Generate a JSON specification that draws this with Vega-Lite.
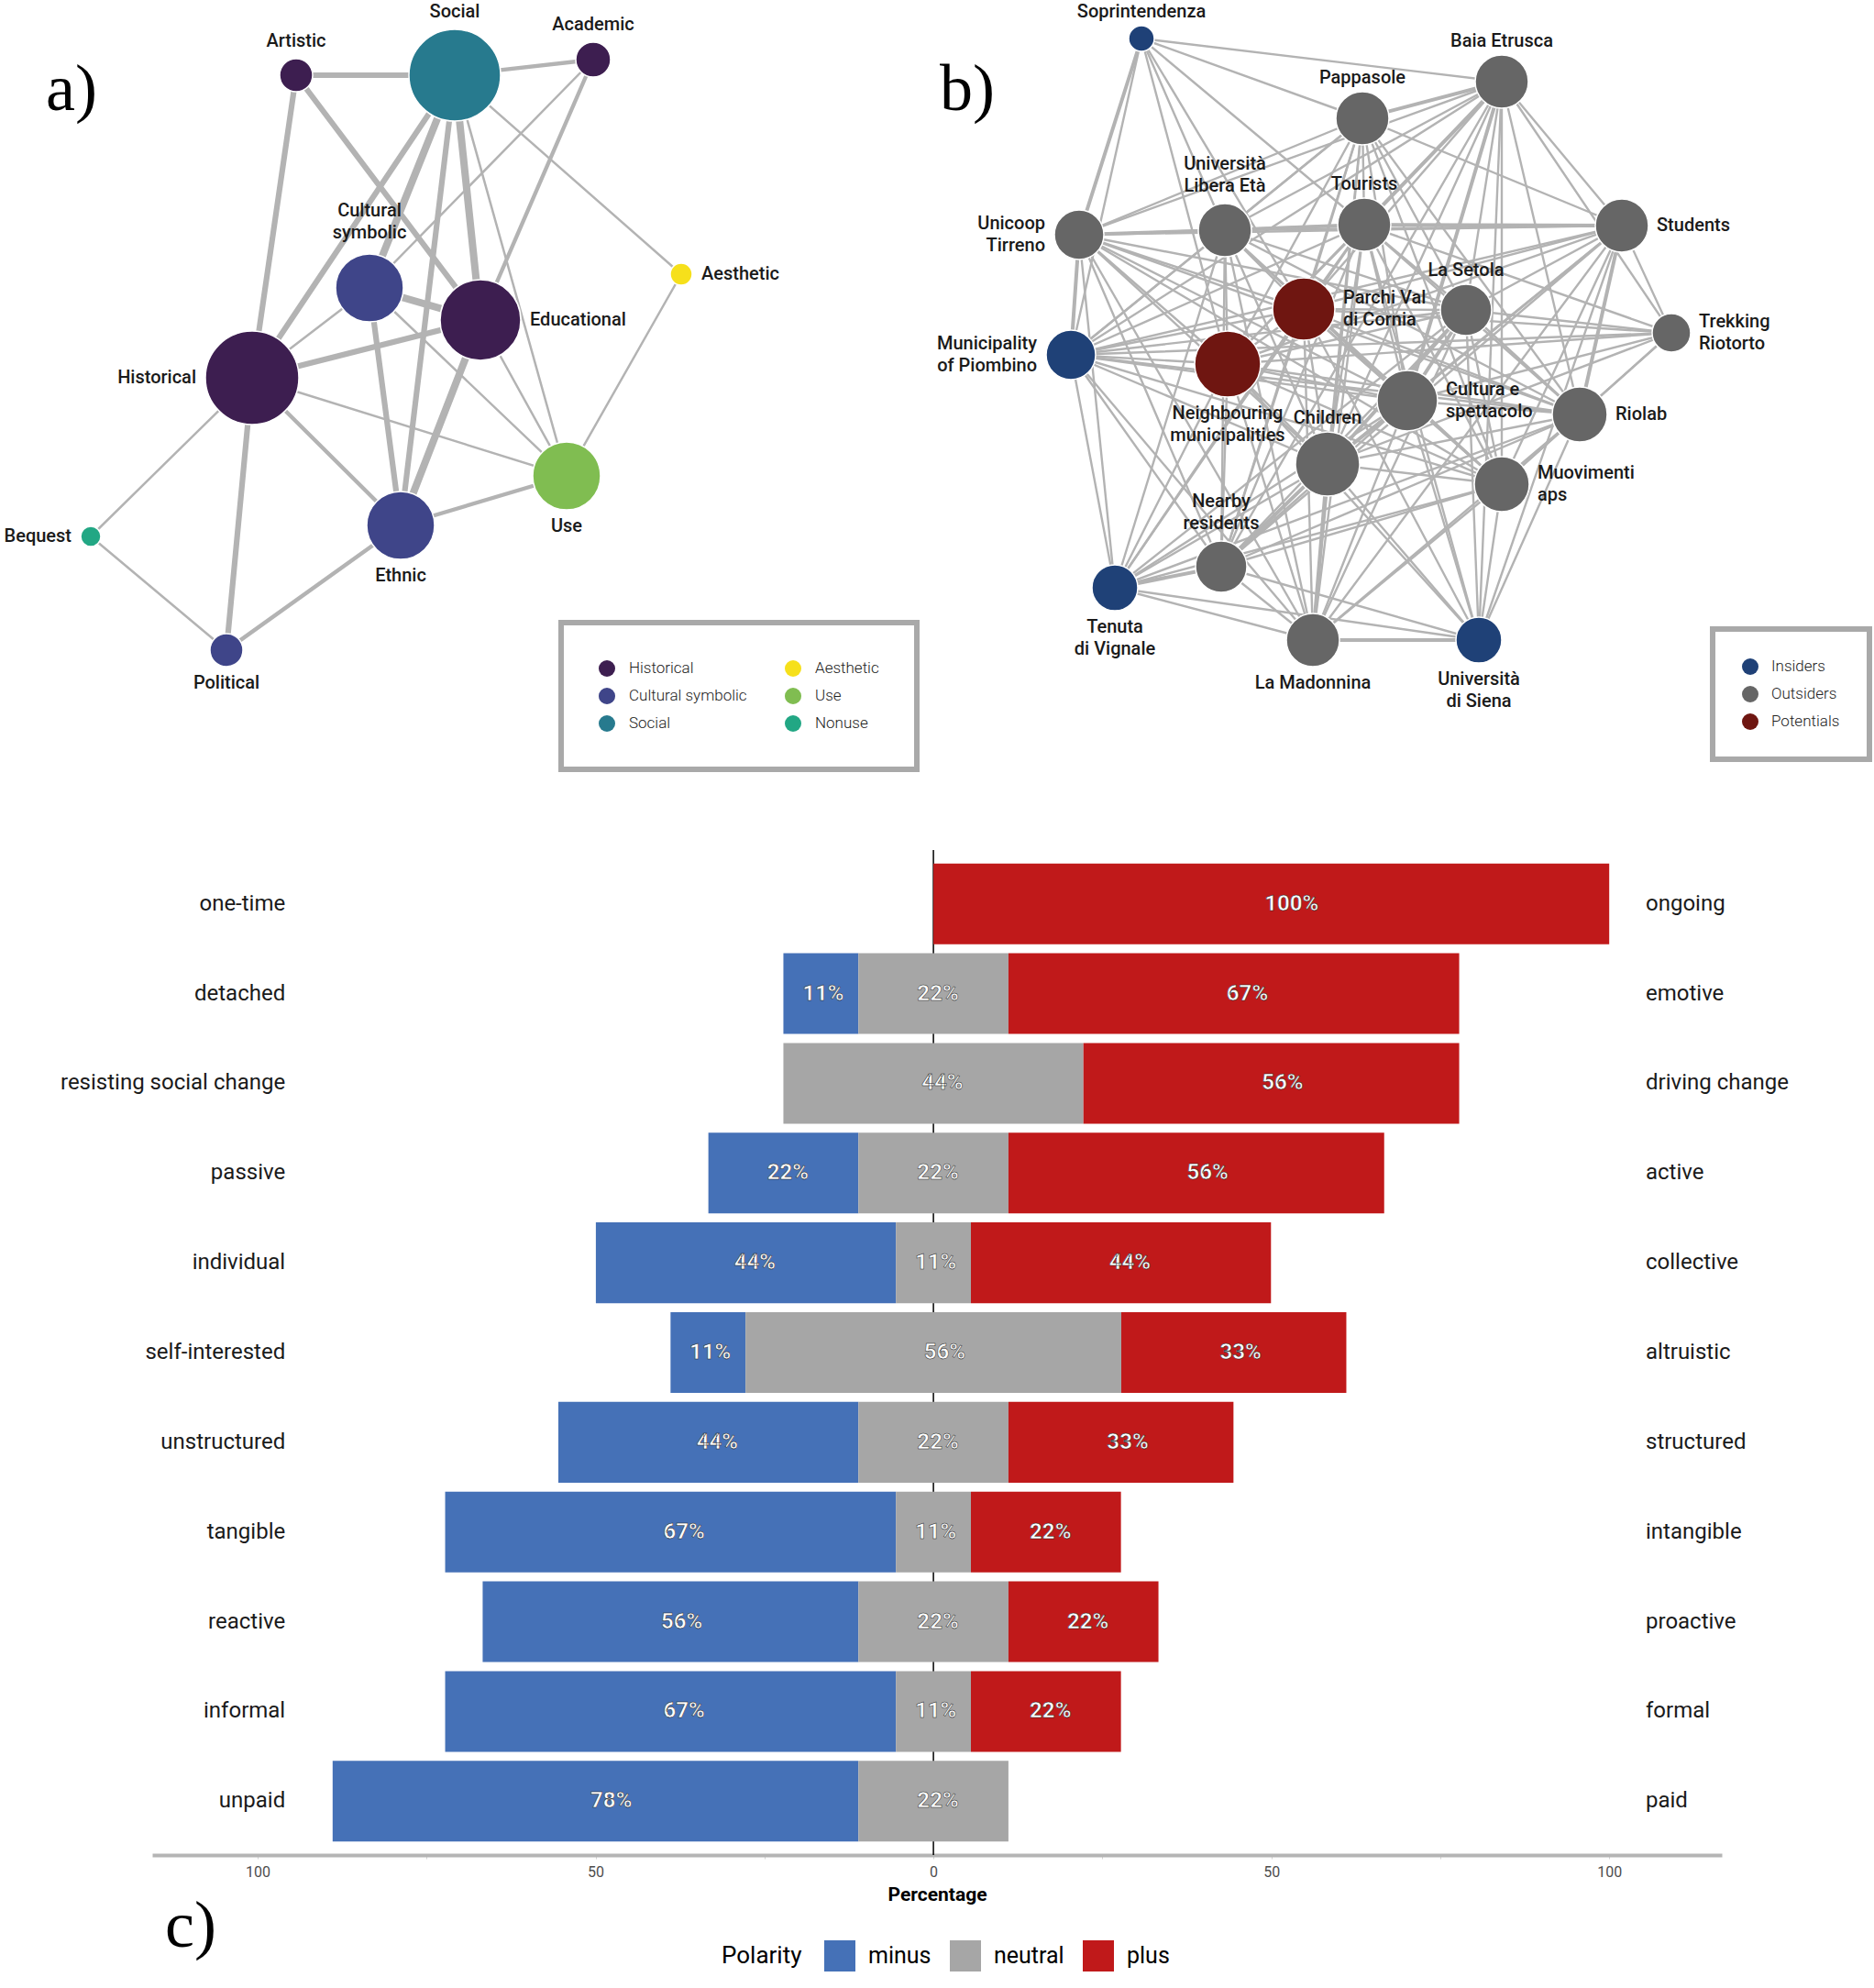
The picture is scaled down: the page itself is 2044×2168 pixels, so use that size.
{
  "$schema": "https://vega.github.io/schema/vega-lite/v6.json",
  "padding": 0,
  "autosize": {"type": "pad"},
  "bounds": "flush",
  "center": true,
  "spacing": 0,
  "background": "white",
  "config": {
    "view": {"stroke": null},
    "font": "Roboto",
    "legend": {"labelFont": "Roboto", "titleFont": "Roboto", "strokeWidth": 6}
  },
  "resolve": {
    "scale": {"x": "independent", "y": "independent", "color": "independent", "size": "independent", "strokeWidth": "independent"},
    "legend": {"color": "independent", "size": "independent", "strokeWidth": "independent"}
  },
  "datasets": {
    "nodesA": [
      {"id": "Art", "label": "Artistic", "group": "Historical", "x": 323, "y": 82, "weight": 18, "side": "above"},
      {"id": "Soc", "label": "Social", "group": "Social", "x": 496, "y": 82, "weight": 50, "side": "above"},
      {"id": "Aca", "label": "Academic", "group": "Historical", "x": 647, "y": 65, "weight": 19, "side": "above"},
      {"id": "CSy", "label": "Cultural\nsymbolic", "group": "Cultural symbolic", "x": 403, "y": 314, "weight": 37, "side": "above"},
      {"id": "Edu", "label": "Educational", "group": "Historical", "x": 524, "y": 349, "weight": 44, "side": "right"},
      {"id": "Aes", "label": "Aesthetic", "group": "Aesthetic", "x": 743, "y": 299, "weight": 12, "side": "right"},
      {"id": "His", "label": "Historical", "group": "Historical", "x": 275, "y": 412, "weight": 51, "side": "left"},
      {"id": "Use", "label": "Use", "group": "Use", "x": 618, "y": 519, "weight": 37, "side": "below"},
      {"id": "Eth", "label": "Ethnic", "group": "Cultural symbolic", "x": 437, "y": 573, "weight": 37, "side": "below"},
      {"id": "Beq", "label": "Bequest", "group": "Nonuse", "x": 99, "y": 585, "weight": 11, "side": "left"},
      {"id": "Pol", "label": "Political", "group": "Cultural symbolic", "x": 247, "y": 709, "weight": 18, "side": "below"}
    ],
    "edgesA": [
      {"s": "Art", "t": "Soc", "w": 3}, {"s": "Art", "t": "His", "w": 3}, {"s": "Art", "t": "Edu", "w": 3},
      {"s": "Soc", "t": "Aca", "w": 2}, {"s": "Soc", "t": "His", "w": 3}, {"s": "Soc", "t": "CSy", "w": 4},
      {"s": "Soc", "t": "Eth", "w": 3}, {"s": "Soc", "t": "Edu", "w": 4}, {"s": "Soc", "t": "Use", "w": 1},
      {"s": "Soc", "t": "Aes", "w": 1}, {"s": "Aca", "t": "CSy", "w": 1}, {"s": "Aca", "t": "Edu", "w": 2},
      {"s": "Aes", "t": "Use", "w": 1}, {"s": "CSy", "t": "His", "w": 1}, {"s": "CSy", "t": "Edu", "w": 4},
      {"s": "CSy", "t": "Eth", "w": 3}, {"s": "CSy", "t": "Use", "w": 1}, {"s": "Edu", "t": "His", "w": 3},
      {"s": "Edu", "t": "Eth", "w": 4}, {"s": "Edu", "t": "Use", "w": 1}, {"s": "His", "t": "Use", "w": 1},
      {"s": "His", "t": "Eth", "w": 2}, {"s": "His", "t": "Beq", "w": 1}, {"s": "His", "t": "Pol", "w": 3},
      {"s": "Eth", "t": "Use", "w": 2}, {"s": "Eth", "t": "Pol", "w": 2}, {"s": "Beq", "t": "Pol", "w": 1}
    ],
    "nodesB": [
      {"id": "SO", "label": "Soprintendenza", "group": "Insiders", "x": 1245, "y": 42, "weight": 14, "side": "above"},
      {"id": "BE", "label": "Baia Etrusca", "group": "Outsiders", "x": 1638, "y": 89, "weight": 29, "side": "above"},
      {"id": "PA", "label": "Pappasole", "group": "Outsiders", "x": 1486, "y": 129, "weight": 29, "side": "above"},
      {"id": "UL", "label": "Università\nLibera Età", "group": "Outsiders", "x": 1336, "y": 251, "weight": 29, "side": "above"},
      {"id": "TO", "label": "Tourists", "group": "Outsiders", "x": 1488, "y": 245, "weight": 29, "side": "above"},
      {"id": "UT", "label": "Unicoop\nTirreno", "group": "Outsiders", "x": 1177, "y": 256, "weight": 27, "side": "left"},
      {"id": "ST", "label": "Students", "group": "Outsiders", "x": 1769, "y": 246, "weight": 29, "side": "right"},
      {"id": "PV", "label": "Parchi  Val\ndi Cornia", "group": "Potentials", "x": 1422, "y": 337, "weight": 34, "side": "right"},
      {"id": "LS", "label": "La Setola", "group": "Outsiders", "x": 1599, "y": 338, "weight": 28, "side": "above"},
      {"id": "TR", "label": "Trekking\nRiotorto", "group": "Outsiders", "x": 1823, "y": 363, "weight": 21, "side": "right"},
      {"id": "MP", "label": "Municipality\nof Piombino", "group": "Insiders", "x": 1168, "y": 387, "weight": 27, "side": "left"},
      {"id": "NM", "label": "Neighbouring\nmunicipalities", "group": "Potentials", "x": 1339, "y": 397, "weight": 36, "side": "below"},
      {"id": "CS", "label": "Cultura e\nspettacolo", "group": "Outsiders", "x": 1535, "y": 437, "weight": 33, "side": "right"},
      {"id": "CH", "label": "Children", "group": "Outsiders", "x": 1448, "y": 506, "weight": 35, "side": "above"},
      {"id": "RI", "label": "Riolab", "group": "Outsiders", "x": 1723, "y": 452, "weight": 30, "side": "right"},
      {"id": "MU", "label": "Muovimenti\naps", "group": "Outsiders", "x": 1638, "y": 528, "weight": 30, "side": "right"},
      {"id": "NR", "label": "Nearby\nresidents", "group": "Outsiders", "x": 1332, "y": 618, "weight": 28, "side": "above"},
      {"id": "TV", "label": "Tenuta\ndi Vignale", "group": "Insiders", "x": 1216, "y": 641, "weight": 25, "side": "below"},
      {"id": "LM", "label": "La Madonnina", "group": "Outsiders", "x": 1432, "y": 698, "weight": 29, "side": "below"},
      {"id": "US", "label": "Università\ndi Siena", "group": "Insiders", "x": 1613, "y": 698, "weight": 25, "side": "below"}
    ],
    "edgesB": [
      {"s": "SO", "t": "UT", "w": 2}, {"s": "SO", "t": "MP", "w": 1}, {"s": "SO", "t": "NM", "w": 1}, {"s": "SO", "t": "UL", "w": 1},
      {"s": "SO", "t": "TO", "w": 1}, {"s": "SO", "t": "PA", "w": 1}, {"s": "SO", "t": "BE", "w": 1}, {"s": "SO", "t": "PV", "w": 1},
      {"s": "BE", "t": "PA", "w": 2}, {"s": "BE", "t": "UT", "w": 1}, {"s": "BE", "t": "UL", "w": 1}, {"s": "BE", "t": "TO", "w": 2},
      {"s": "BE", "t": "ST", "w": 1}, {"s": "BE", "t": "PV", "w": 1}, {"s": "BE", "t": "LS", "w": 1}, {"s": "BE", "t": "TR", "w": 1},
      {"s": "BE", "t": "MP", "w": 1}, {"s": "BE", "t": "NM", "w": 1}, {"s": "BE", "t": "CS", "w": 2}, {"s": "BE", "t": "CH", "w": 1},
      {"s": "BE", "t": "RI", "w": 1}, {"s": "BE", "t": "MU", "w": 1}, {"s": "BE", "t": "NR", "w": 1}, {"s": "BE", "t": "US", "w": 1},
      {"s": "PA", "t": "UT", "w": 1}, {"s": "PA", "t": "UL", "w": 1}, {"s": "PA", "t": "TO", "w": 1}, {"s": "PA", "t": "ST", "w": 1},
      {"s": "PA", "t": "PV", "w": 1}, {"s": "PA", "t": "LS", "w": 1}, {"s": "PA", "t": "MP", "w": 1}, {"s": "PA", "t": "NM", "w": 1},
      {"s": "PA", "t": "CS", "w": 1}, {"s": "PA", "t": "CH", "w": 1}, {"s": "PA", "t": "RI", "w": 1}, {"s": "PA", "t": "MU", "w": 1},
      {"s": "PA", "t": "NR", "w": 1}, {"s": "PA", "t": "LM", "w": 1},
      {"s": "UL", "t": "TO", "w": 2}, {"s": "UL", "t": "UT", "w": 2}, {"s": "UL", "t": "ST", "w": 1}, {"s": "UL", "t": "PV", "w": 1},
      {"s": "UL", "t": "LS", "w": 1}, {"s": "UL", "t": "MP", "w": 1}, {"s": "UL", "t": "NM", "w": 1}, {"s": "UL", "t": "CS", "w": 1},
      {"s": "UL", "t": "CH", "w": 1}, {"s": "UL", "t": "RI", "w": 1}, {"s": "UL", "t": "MU", "w": 1}, {"s": "UL", "t": "NR", "w": 1},
      {"s": "UL", "t": "TV", "w": 1}, {"s": "UL", "t": "LM", "w": 1},
      {"s": "TO", "t": "UT", "w": 1}, {"s": "TO", "t": "ST", "w": 2}, {"s": "TO", "t": "PV", "w": 1}, {"s": "TO", "t": "LS", "w": 1},
      {"s": "TO", "t": "TR", "w": 1}, {"s": "TO", "t": "MP", "w": 1}, {"s": "TO", "t": "NM", "w": 1}, {"s": "TO", "t": "CS", "w": 1},
      {"s": "TO", "t": "CH", "w": 1}, {"s": "TO", "t": "RI", "w": 1}, {"s": "TO", "t": "MU", "w": 1}, {"s": "TO", "t": "NR", "w": 1},
      {"s": "TO", "t": "TV", "w": 1}, {"s": "TO", "t": "LM", "w": 1}, {"s": "TO", "t": "US", "w": 1},
      {"s": "UT", "t": "ST", "w": 1}, {"s": "UT", "t": "PV", "w": 1}, {"s": "UT", "t": "LS", "w": 1}, {"s": "UT", "t": "MP", "w": 2},
      {"s": "UT", "t": "NM", "w": 1}, {"s": "UT", "t": "CS", "w": 1}, {"s": "UT", "t": "CH", "w": 1}, {"s": "UT", "t": "RI", "w": 1},
      {"s": "UT", "t": "MU", "w": 1}, {"s": "UT", "t": "NR", "w": 1}, {"s": "UT", "t": "TV", "w": 1}, {"s": "UT", "t": "LM", "w": 1},
      {"s": "ST", "t": "PV", "w": 1}, {"s": "ST", "t": "LS", "w": 1}, {"s": "ST", "t": "TR", "w": 1}, {"s": "ST", "t": "MP", "w": 1},
      {"s": "ST", "t": "NM", "w": 1}, {"s": "ST", "t": "CS", "w": 1}, {"s": "ST", "t": "CH", "w": 1}, {"s": "ST", "t": "RI", "w": 2},
      {"s": "ST", "t": "MU", "w": 1}, {"s": "ST", "t": "NR", "w": 1}, {"s": "ST", "t": "US", "w": 1}, {"s": "ST", "t": "LM", "w": 1},
      {"s": "PV", "t": "LS", "w": 1}, {"s": "PV", "t": "TR", "w": 1}, {"s": "PV", "t": "MP", "w": 1}, {"s": "PV", "t": "NM", "w": 1},
      {"s": "PV", "t": "CS", "w": 1}, {"s": "PV", "t": "CH", "w": 1}, {"s": "PV", "t": "RI", "w": 1}, {"s": "PV", "t": "MU", "w": 1},
      {"s": "PV", "t": "NR", "w": 1}, {"s": "PV", "t": "TV", "w": 1}, {"s": "PV", "t": "LM", "w": 1}, {"s": "PV", "t": "US", "w": 1},
      {"s": "LS", "t": "TR", "w": 1}, {"s": "LS", "t": "MP", "w": 1}, {"s": "LS", "t": "NM", "w": 1}, {"s": "LS", "t": "CS", "w": 2},
      {"s": "LS", "t": "CH", "w": 2}, {"s": "LS", "t": "RI", "w": 1}, {"s": "LS", "t": "MU", "w": 1}, {"s": "LS", "t": "NR", "w": 1},
      {"s": "LS", "t": "TV", "w": 1}, {"s": "LS", "t": "LM", "w": 1}, {"s": "LS", "t": "US", "w": 1},
      {"s": "TR", "t": "MP", "w": 1}, {"s": "TR", "t": "NM", "w": 1}, {"s": "TR", "t": "CS", "w": 1}, {"s": "TR", "t": "CH", "w": 1},
      {"s": "TR", "t": "RI", "w": 1}, {"s": "TR", "t": "MU", "w": 1},
      {"s": "MP", "t": "NM", "w": 1}, {"s": "MP", "t": "CS", "w": 1}, {"s": "MP", "t": "CH", "w": 1}, {"s": "MP", "t": "RI", "w": 1},
      {"s": "MP", "t": "MU", "w": 1}, {"s": "MP", "t": "NR", "w": 1}, {"s": "MP", "t": "TV", "w": 1}, {"s": "MP", "t": "LM", "w": 1},
      {"s": "NM", "t": "CS", "w": 1}, {"s": "NM", "t": "CH", "w": 1}, {"s": "NM", "t": "RI", "w": 1}, {"s": "NM", "t": "MU", "w": 1},
      {"s": "NM", "t": "NR", "w": 1}, {"s": "NM", "t": "TV", "w": 1}, {"s": "NM", "t": "LM", "w": 1}, {"s": "NM", "t": "US", "w": 1},
      {"s": "CS", "t": "CH", "w": 2}, {"s": "CS", "t": "RI", "w": 1}, {"s": "CS", "t": "MU", "w": 1}, {"s": "CS", "t": "NR", "w": 1},
      {"s": "CS", "t": "TV", "w": 1}, {"s": "CS", "t": "LM", "w": 1}, {"s": "CS", "t": "US", "w": 1},
      {"s": "CH", "t": "RI", "w": 1}, {"s": "CH", "t": "MU", "w": 1}, {"s": "CH", "t": "NR", "w": 2}, {"s": "CH", "t": "TV", "w": 1},
      {"s": "CH", "t": "LM", "w": 2}, {"s": "CH", "t": "US", "w": 1},
      {"s": "RI", "t": "MU", "w": 1}, {"s": "RI", "t": "NR", "w": 1}, {"s": "RI", "t": "TV", "w": 1}, {"s": "RI", "t": "LM", "w": 1},
      {"s": "RI", "t": "US", "w": 1},
      {"s": "MU", "t": "NR", "w": 1}, {"s": "MU", "t": "TV", "w": 1}, {"s": "MU", "t": "LM", "w": 1}, {"s": "MU", "t": "US", "w": 1},
      {"s": "NR", "t": "TV", "w": 2}, {"s": "NR", "t": "LM", "w": 1}, {"s": "NR", "t": "US", "w": 1},
      {"s": "TV", "t": "LM", "w": 1}, {"s": "TV", "t": "US", "w": 1},
      {"s": "LM", "t": "US", "w": 2}
    ],
    "bars": [
      {"left": "one-time", "right": "ongoing", "polarity": "plus", "pct": 100},
      {"left": "detached", "right": "emotive", "polarity": "minus", "pct": 11.1},
      {"left": "detached", "right": "emotive", "polarity": "neutral", "pct": 22.2},
      {"left": "detached", "right": "emotive", "polarity": "plus", "pct": 66.7},
      {"left": "resisting social change", "right": "driving change", "polarity": "neutral", "pct": 44.4},
      {"left": "resisting social change", "right": "driving change", "polarity": "plus", "pct": 55.6},
      {"left": "passive", "right": "active", "polarity": "minus", "pct": 22.2},
      {"left": "passive", "right": "active", "polarity": "neutral", "pct": 22.2},
      {"left": "passive", "right": "active", "polarity": "plus", "pct": 55.6},
      {"left": "individual", "right": "collective", "polarity": "minus", "pct": 44.4},
      {"left": "individual", "right": "collective", "polarity": "neutral", "pct": 11.1},
      {"left": "individual", "right": "collective", "polarity": "plus", "pct": 44.4},
      {"left": "self-interested", "right": "altruistic", "polarity": "minus", "pct": 11.1},
      {"left": "self-interested", "right": "altruistic", "polarity": "neutral", "pct": 55.6},
      {"left": "self-interested", "right": "altruistic", "polarity": "plus", "pct": 33.3},
      {"left": "unstructured", "right": "structured", "polarity": "minus", "pct": 44.4},
      {"left": "unstructured", "right": "structured", "polarity": "neutral", "pct": 22.2},
      {"left": "unstructured", "right": "structured", "polarity": "plus", "pct": 33.3},
      {"left": "tangible", "right": "intangible", "polarity": "minus", "pct": 66.7},
      {"left": "tangible", "right": "intangible", "polarity": "neutral", "pct": 11.1},
      {"left": "tangible", "right": "intangible", "polarity": "plus", "pct": 22.2},
      {"left": "reactive", "right": "proactive", "polarity": "minus", "pct": 55.6},
      {"left": "reactive", "right": "proactive", "polarity": "neutral", "pct": 22.2},
      {"left": "reactive", "right": "proactive", "polarity": "plus", "pct": 22.2},
      {"left": "informal", "right": "formal", "polarity": "minus", "pct": 66.7},
      {"left": "informal", "right": "formal", "polarity": "neutral", "pct": 11.1},
      {"left": "informal", "right": "formal", "polarity": "plus", "pct": 22.2},
      {"left": "unpaid", "right": "paid", "polarity": "minus", "pct": 77.8},
      {"left": "unpaid", "right": "paid", "polarity": "neutral", "pct": 22.2}
    ]
  },
  "vconcat": [
    {
      "width": 2044,
      "height": 927,
      "resolve": {
        "scale": {"color": "independent", "strokeWidth": "independent"},
        "legend": {"color": "independent"}
      },
      "layer": [
        {
          "data": {"name": "edgesA"},
          "transform": [
            {"lookup": "s", "from": {"data": {"name": "nodesA"}, "key": "id", "fields": ["x", "y"]}, "as": ["sx", "sy"]},
            {"lookup": "t", "from": {"data": {"name": "nodesA"}, "key": "id", "fields": ["x", "y"]}, "as": ["tx", "ty"]}
          ],
          "mark": {"type": "rule", "color": "#b3b3b3", "strokeCap": "round"},
          "encoding": {
            "x": {"field": "sx", "type": "quantitative", "scale": {"domain": [0, 2044], "nice": false, "zero": false}, "axis": null},
            "y": {"field": "sy", "type": "quantitative", "scale": {"domain": [0, 927], "nice": false, "zero": false, "reverse": true}, "axis": null},
            "x2": {"field": "tx"},
            "y2": {"field": "ty"},
            "strokeWidth": {"field": "w", "type": "quantitative", "scale": {"domain": [1, 4], "range": [2.5, 8]}, "legend": null}
          }
        },
        {
          "data": {"name": "edgesB"},
          "transform": [
            {"lookup": "s", "from": {"data": {"name": "nodesB"}, "key": "id", "fields": ["x", "y"]}, "as": ["sx", "sy"]},
            {"lookup": "t", "from": {"data": {"name": "nodesB"}, "key": "id", "fields": ["x", "y"]}, "as": ["tx", "ty"]}
          ],
          "mark": {"type": "rule", "color": "#b3b3b3", "strokeCap": "round"},
          "encoding": {
            "x": {"field": "sx", "type": "quantitative", "scale": {"domain": [0, 2044], "nice": false, "zero": false}, "axis": null},
            "y": {"field": "sy", "type": "quantitative", "scale": {"domain": [0, 927], "nice": false, "zero": false, "reverse": true}, "axis": null},
            "x2": {"field": "tx"},
            "y2": {"field": "ty"},
            "strokeWidth": {"field": "w", "type": "quantitative", "scale": {"domain": [1, 2], "range": [2.4, 4]}, "legend": null}
          }
        },
        {
          "data": {"name": "nodesA"},
          "mark": {"type": "point", "shape": "circle", "filled": true, "opacity": 1, "stroke": "white", "strokeWidth": 1.5},
          "encoding": {
            "x": {"field": "x", "type": "quantitative", "scale": {"domain": [0, 2044], "nice": false, "zero": false}, "axis": null},
            "y": {"field": "y", "type": "quantitative", "scale": {"domain": [0, 927], "nice": false, "zero": false, "reverse": true}, "axis": null},
            "size": {"field": "weight", "type": "quantitative", "scale": {"type": "pow", "exponent": 2, "domain": [0, 50], "range": [0, 10000]}, "legend": null},
            "color": {
              "field": "group", "type": "nominal",
              "scale": {"domain": ["Historical", "Cultural symbolic", "Social", "Aesthetic", "Use", "Nonuse"], "range": ["#3d1e50", "#3f4589", "#277a8e", "#f6e01b", "#80bd51", "#22a784"]},
              "legend": {
                "orient": "none", "legendX": 612, "legendY": 679, "columns": 2, "title": null,
                "symbolType": "circle", "symbolSize": 324, "symbolStrokeWidth": 0,
                "labelFontSize": 17, "labelFontWeight": 300, "labelColor": "#222222", "labelOffset": 15,
                "rowPadding": 12, "columnPadding": 41, "padding": 41,
                "strokeColor": "#a9a9a9", "fillColor": "white"
              }
            }
          }
        },
        {
          "data": {"name": "nodesB"},
          "mark": {"type": "point", "shape": "circle", "filled": true, "opacity": 1, "stroke": "white", "strokeWidth": 1.5},
          "encoding": {
            "x": {"field": "x", "type": "quantitative", "scale": {"domain": [0, 2044], "nice": false, "zero": false}, "axis": null},
            "y": {"field": "y", "type": "quantitative", "scale": {"domain": [0, 927], "nice": false, "zero": false, "reverse": true}, "axis": null},
            "size": {"field": "weight", "type": "quantitative", "scale": {"type": "pow", "exponent": 2, "domain": [0, 50], "range": [0, 10000]}, "legend": null},
            "color": {
              "field": "group", "type": "nominal",
              "scale": {"domain": ["Insiders", "Outsiders", "Potentials"], "range": ["#1f4177", "#666666", "#6f1611"]},
              "legend": {
                "orient": "none", "legendX": 1868, "legendY": 686, "columns": 1, "title": null,
                "symbolType": "circle", "symbolSize": 324, "symbolStrokeWidth": 0,
                "labelFontSize": 17, "labelFontWeight": 300, "labelColor": "#222222", "labelOffset": 14,
                "rowPadding": 12, "padding": 32,
                "strokeColor": "#a9a9a9", "fillColor": "white"
              }
            }
          }
        },
        {
          "data": {"name": "nodesA"},
          "transform": [{"filter": "datum.side === 'above'"}, {"calculate": "datum.y - datum.weight - 9 - (indexof(datum.label, '\\n') >= 0 ? 28 : 0)", "as": "ly"}],
          "mark": {"type": "text", "align": "center", "baseline": "bottom", "fontSize": 20, "fontWeight": 500, "color": "#1a1a1a", "lineBreak": "\n", "lineHeight": 24},
          "encoding": {
            "x": {"field": "x", "type": "quantitative", "scale": {"domain": [0, 2044], "nice": false, "zero": false}, "axis": null},
            "y": {"field": "ly", "type": "quantitative", "scale": {"domain": [0, 927], "nice": false, "zero": false, "reverse": true}, "axis": null},
            "text": {"field": "label"}
          }
        },
        {
          "data": {"name": "nodesA"},
          "transform": [{"filter": "datum.side === 'below'"}, {"calculate": "datum.y + datum.weight + 8", "as": "ly"}],
          "mark": {"type": "text", "align": "center", "baseline": "top", "fontSize": 20, "fontWeight": 500, "color": "#1a1a1a", "lineBreak": "\n", "lineHeight": 24},
          "encoding": {
            "x": {"field": "x", "type": "quantitative", "scale": {"domain": [0, 2044], "nice": false, "zero": false}, "axis": null},
            "y": {"field": "ly", "type": "quantitative", "scale": {"domain": [0, 927], "nice": false, "zero": false, "reverse": true}, "axis": null},
            "text": {"field": "label"}
          }
        },
        {
          "data": {"name": "nodesA"},
          "transform": [{"filter": "datum.side === 'left'"}, {"calculate": "datum.x - datum.weight - 10", "as": "lx"}, {"calculate": "datum.y - (indexof(datum.label, '\\n') >= 0 ? 12 : 0)", "as": "ly"}],
          "mark": {"type": "text", "align": "right", "baseline": "middle", "fontSize": 20, "fontWeight": 500, "color": "#1a1a1a", "lineBreak": "\n", "lineHeight": 24},
          "encoding": {
            "x": {"field": "lx", "type": "quantitative", "scale": {"domain": [0, 2044], "nice": false, "zero": false}, "axis": null},
            "y": {"field": "ly", "type": "quantitative", "scale": {"domain": [0, 927], "nice": false, "zero": false, "reverse": true}, "axis": null},
            "text": {"field": "label"}
          }
        },
        {
          "data": {"name": "nodesA"},
          "transform": [{"filter": "datum.side === 'right'"}, {"calculate": "datum.x + datum.weight + 10", "as": "lx"}, {"calculate": "datum.y - (indexof(datum.label, '\\n') >= 0 ? 12 : 0)", "as": "ly"}],
          "mark": {"type": "text", "align": "left", "baseline": "middle", "fontSize": 20, "fontWeight": 500, "color": "#1a1a1a", "lineBreak": "\n", "lineHeight": 24},
          "encoding": {
            "x": {"field": "lx", "type": "quantitative", "scale": {"domain": [0, 2044], "nice": false, "zero": false}, "axis": null},
            "y": {"field": "ly", "type": "quantitative", "scale": {"domain": [0, 927], "nice": false, "zero": false, "reverse": true}, "axis": null},
            "text": {"field": "label"}
          }
        },
        {
          "data": {"name": "nodesB"},
          "transform": [{"filter": "datum.side === 'above'"}, {"calculate": "datum.y - datum.weight - 5 - (indexof(datum.label, '\\n') >= 0 ? 28 : 0)", "as": "ly"}],
          "mark": {"type": "text", "align": "center", "baseline": "bottom", "fontSize": 20, "fontWeight": 500, "color": "#1a1a1a", "lineBreak": "\n", "lineHeight": 24},
          "encoding": {
            "x": {"field": "x", "type": "quantitative", "scale": {"domain": [0, 2044], "nice": false, "zero": false}, "axis": null},
            "y": {"field": "ly", "type": "quantitative", "scale": {"domain": [0, 927], "nice": false, "zero": false, "reverse": true}, "axis": null},
            "text": {"field": "label"}
          }
        },
        {
          "data": {"name": "nodesB"},
          "transform": [{"filter": "datum.side === 'below'"}, {"calculate": "datum.y + datum.weight + 8", "as": "ly"}],
          "mark": {"type": "text", "align": "center", "baseline": "top", "fontSize": 20, "fontWeight": 500, "color": "#1a1a1a", "lineBreak": "\n", "lineHeight": 24},
          "encoding": {
            "x": {"field": "x", "type": "quantitative", "scale": {"domain": [0, 2044], "nice": false, "zero": false}, "axis": null},
            "y": {"field": "ly", "type": "quantitative", "scale": {"domain": [0, 927], "nice": false, "zero": false, "reverse": true}, "axis": null},
            "text": {"field": "label"}
          }
        },
        {
          "data": {"name": "nodesB"},
          "transform": [{"filter": "datum.side === 'left'"}, {"calculate": "datum.x - datum.weight - 10", "as": "lx"}, {"calculate": "datum.y - (indexof(datum.label, '\\n') >= 0 ? 12 : 0)", "as": "ly"}],
          "mark": {"type": "text", "align": "right", "baseline": "middle", "fontSize": 20, "fontWeight": 500, "color": "#1a1a1a", "lineBreak": "\n", "lineHeight": 24},
          "encoding": {
            "x": {"field": "lx", "type": "quantitative", "scale": {"domain": [0, 2044], "nice": false, "zero": false}, "axis": null},
            "y": {"field": "ly", "type": "quantitative", "scale": {"domain": [0, 927], "nice": false, "zero": false, "reverse": true}, "axis": null},
            "text": {"field": "label"}
          }
        },
        {
          "data": {"name": "nodesB"},
          "transform": [{"filter": "datum.side === 'right'"}, {"calculate": "datum.x + datum.weight + 9", "as": "lx"}, {"calculate": "datum.y - (indexof(datum.label, '\\n') >= 0 ? 12 : 0)", "as": "ly"}],
          "mark": {"type": "text", "align": "left", "baseline": "middle", "fontSize": 20, "fontWeight": 500, "color": "#1a1a1a", "lineBreak": "\n", "lineHeight": 24},
          "encoding": {
            "x": {"field": "lx", "type": "quantitative", "scale": {"domain": [0, 2044], "nice": false, "zero": false}, "axis": null},
            "y": {"field": "ly", "type": "quantitative", "scale": {"domain": [0, 927], "nice": false, "zero": false, "reverse": true}, "axis": null},
            "text": {"field": "label"}
          }
        },
        {
          "data": {"values": [{"panel": "a)", "px": 50}, {"panel": "b)", "px": 1025}]},
          "mark": {"type": "text", "align": "left", "baseline": "alphabetic", "font": "Liberation Serif", "fontSize": 72, "color": "black"},
          "encoding": {
            "x": {"field": "px", "type": "quantitative", "scale": {"domain": [0, 2044], "nice": false, "zero": false}, "axis": null},
            "y": {"datum": 120, "type": "quantitative", "scale": {"domain": [0, 927], "nice": false, "zero": false, "reverse": true}, "axis": null},
            "text": {"field": "panel"}
          }
        }
      ]
    },
    {
      "width": 1712,
      "height": 1096,
      "data": {"name": "bars"},
      "resolve": {"scale": {"y": "independent"}},
      "transform": [
        {"calculate": "datum.polarity === 'neutral' ? datum.pct : 0", "as": "neutralPart"},
        {"joinaggregate": [{"op": "sum", "field": "neutralPart", "as": "neutral"}], "groupby": ["left"]},
        {"calculate": "datum.polarity === 'minus' ? -datum.neutral / 2 - datum.pct : (datum.polarity === 'neutral' ? -datum.neutral / 2 : datum.neutral / 2)", "as": "x0"},
        {"calculate": "datum.x0 + datum.pct", "as": "x1"},
        {"calculate": "datum.x0 + datum.pct * 0.53", "as": "xm"},
        {"calculate": "format(datum.pct, '.0f') + '%'", "as": "lbl"}
      ],
      "layer": [
        {
          "transform": [{"aggregate": [{"op": "count", "as": "n"}]}],
          "mark": {"type": "rule", "color": "black", "strokeWidth": 1.5},
          "encoding": {
            "x": {"datum": 0, "type": "quantitative", "scale": {"domain": [-115.6, 116.66], "nice": false, "zero": false},
              "axis": {"values": [-100, -75, -50, -25, 0, 25, 50, 75, 100], "labelExpr": "abs(datum.value) % 50 === 0 ? format(abs(datum.value), 'd') : ''", "title": "Percentage", "titleFont": "Roboto", "titleFontSize": 21, "titleFontWeight": "bold", "titleColor": "#000000", "titlePadding": 6, "labelFont": "Roboto", "labelFontSize": 16, "labelColor": "#4d4d4d", "labelPadding": 6, "domainColor": "#b5b5b5", "domainWidth": 4, "tickColor": "#d3d3d3", "tickSize": 4, "grid": false, "labelFlush": false}}
          }
        },
        {
          "mark": {"type": "bar"},
          "encoding": {
            "y": {"field": "left", "type": "nominal", "sort": ["one-time", "detached", "resisting social change", "passive", "individual", "self-interested", "unstructured", "tangible", "reactive", "informal", "unpaid"], "scale": {"type": "band", "paddingInner": 0.1, "paddingOuter": 0.15}, "axis": null},
            "x": {"field": "x0", "type": "quantitative", "scale": {"domain": [-115.6, 116.66], "nice": false, "zero": false},
              "axis": {"values": [-100, -75, -50, -25, 0, 25, 50, 75, 100], "labelExpr": "abs(datum.value) % 50 === 0 ? format(abs(datum.value), 'd') : ''", "title": "Percentage", "titleFont": "Roboto", "titleFontSize": 21, "titleFontWeight": "bold", "titleColor": "#000000", "titlePadding": 6, "labelFont": "Roboto", "labelFontSize": 16, "labelColor": "#4d4d4d", "labelPadding": 6, "domainColor": "#b5b5b5", "domainWidth": 4, "tickColor": "#d3d3d3", "tickSize": 4, "grid": false, "labelFlush": false}},
            "x2": {"field": "x1"},
            "color": {
              "field": "polarity", "type": "nominal",
              "scale": {"domain": ["minus", "neutral", "plus"], "range": ["#4571b7", "#a6a6a6", "#c0191a"]},
              "legend": {
                "orient": "none", "legendX": 621, "legendY": 1189, "direction": "horizontal",
                "title": "Polarity", "titleOrient": "left", "titleFontSize": 26, "titleFontWeight": "normal", "titleColor": "#000000", "titlePadding": 24, "titleBaseline": "middle",
                "symbolType": "square", "symbolSize": 1156, "symbolStrokeWidth": 0,
                "labelFontSize": 25, "labelColor": "#000000", "labelOffset": 14, "columnPadding": 20, "padding": 0
              }
            }
          }
        },
        {
          "mark": {"type": "text", "fontSize": 24, "fontWeight": "bold", "fill": "white", "stroke": "#1a1a1a", "strokeWidth": 0.5, "align": "center", "baseline": "middle"},
          "encoding": {
            "y": {"field": "left", "type": "nominal", "sort": ["one-time", "detached", "resisting social change", "passive", "individual", "self-interested", "unstructured", "tangible", "reactive", "informal", "unpaid"], "scale": {"type": "band", "paddingInner": 0.1, "paddingOuter": 0.15}, "axis": null},
            "x": {"field": "xm", "type": "quantitative", "scale": {"domain": [-115.6, 116.66], "nice": false, "zero": false},
              "axis": {"values": [-100, -75, -50, -25, 0, 25, 50, 75, 100], "labelExpr": "abs(datum.value) % 50 === 0 ? format(abs(datum.value), 'd') : ''", "title": "Percentage", "titleFont": "Roboto", "titleFontSize": 21, "titleFontWeight": "bold", "titleColor": "#000000", "titlePadding": 6, "labelFont": "Roboto", "labelFontSize": 16, "labelColor": "#4d4d4d", "labelPadding": 6, "domainColor": "#b5b5b5", "domainWidth": 4, "tickColor": "#d3d3d3", "tickSize": 4, "grid": false, "labelFlush": false}},
            "text": {"field": "lbl"}
          }
        },
        {
          "transform": [{"aggregate": [{"op": "count", "as": "n"}], "groupby": ["left", "right"]}],
          "mark": {"type": "text", "fontSize": 24, "color": "#1a1a1a", "align": "right", "baseline": "middle"},
          "encoding": {
            "y": {"field": "left", "type": "nominal", "sort": ["one-time", "detached", "resisting social change", "passive", "individual", "self-interested", "unstructured", "tangible", "reactive", "informal", "unpaid"], "scale": {"type": "band", "paddingInner": 0.1, "paddingOuter": 0.15}, "axis": null},
            "x": {"datum": -95.9, "type": "quantitative", "scale": {"domain": [-115.6, 116.66], "nice": false, "zero": false},
              "axis": {"values": [-100, -75, -50, -25, 0, 25, 50, 75, 100], "labelExpr": "abs(datum.value) % 50 === 0 ? format(abs(datum.value), 'd') : ''", "title": "Percentage", "titleFont": "Roboto", "titleFontSize": 21, "titleFontWeight": "bold", "titleColor": "#000000", "titlePadding": 6, "labelFont": "Roboto", "labelFontSize": 16, "labelColor": "#4d4d4d", "labelPadding": 6, "domainColor": "#b5b5b5", "domainWidth": 4, "tickColor": "#d3d3d3", "tickSize": 4, "grid": false, "labelFlush": false}},
            "text": {"field": "left"}
          }
        },
        {
          "transform": [{"aggregate": [{"op": "count", "as": "n"}], "groupby": ["left", "right"]}],
          "mark": {"type": "text", "fontSize": 24, "color": "#1a1a1a", "align": "left", "baseline": "middle"},
          "encoding": {
            "y": {"field": "left", "type": "nominal", "sort": ["one-time", "detached", "resisting social change", "passive", "individual", "self-interested", "unstructured", "tangible", "reactive", "informal", "unpaid"], "scale": {"type": "band", "paddingInner": 0.1, "paddingOuter": 0.15}, "axis": null},
            "x": {"datum": 105.4, "type": "quantitative", "scale": {"domain": [-115.6, 116.66], "nice": false, "zero": false},
              "axis": {"values": [-100, -75, -50, -25, 0, 25, 50, 75, 100], "labelExpr": "abs(datum.value) % 50 === 0 ? format(abs(datum.value), 'd') : ''", "title": "Percentage", "titleFont": "Roboto", "titleFontSize": 21, "titleFontWeight": "bold", "titleColor": "#000000", "titlePadding": 6, "labelFont": "Roboto", "labelFontSize": 16, "labelColor": "#4d4d4d", "labelPadding": 6, "domainColor": "#b5b5b5", "domainWidth": 4, "tickColor": "#d3d3d3", "tickSize": 4, "grid": false, "labelFlush": false}},
            "text": {"field": "right"}
          }
        },
        {
          "data": {"values": [{"panel": "c)"}]},
          "mark": {"type": "text", "align": "left", "baseline": "alphabetic", "font": "Liberation Serif", "fontSize": 72, "color": "black"},
          "encoding": {
            "x": {"datum": -113.7, "type": "quantitative", "scale": {"domain": [-115.6, 116.66], "nice": false, "zero": false},
              "axis": {"values": [-100, -75, -50, -25, 0, 25, 50, 75, 100], "labelExpr": "abs(datum.value) % 50 === 0 ? format(abs(datum.value), 'd') : ''", "title": "Percentage", "titleFont": "Roboto", "titleFontSize": 21, "titleFontWeight": "bold", "titleColor": "#000000", "titlePadding": 6, "labelFont": "Roboto", "labelFontSize": 16, "labelColor": "#4d4d4d", "labelPadding": 6, "domainColor": "#b5b5b5", "domainWidth": 4, "tickColor": "#d3d3d3", "tickSize": 4, "grid": false, "labelFlush": false}},
            "y": {"datum": 1196, "type": "quantitative", "scale": {"domain": [0, 1096], "nice": false, "zero": false, "reverse": true}, "axis": null},
            "text": {"field": "panel"}
          }
        }
      ]
    }
  ]
}
